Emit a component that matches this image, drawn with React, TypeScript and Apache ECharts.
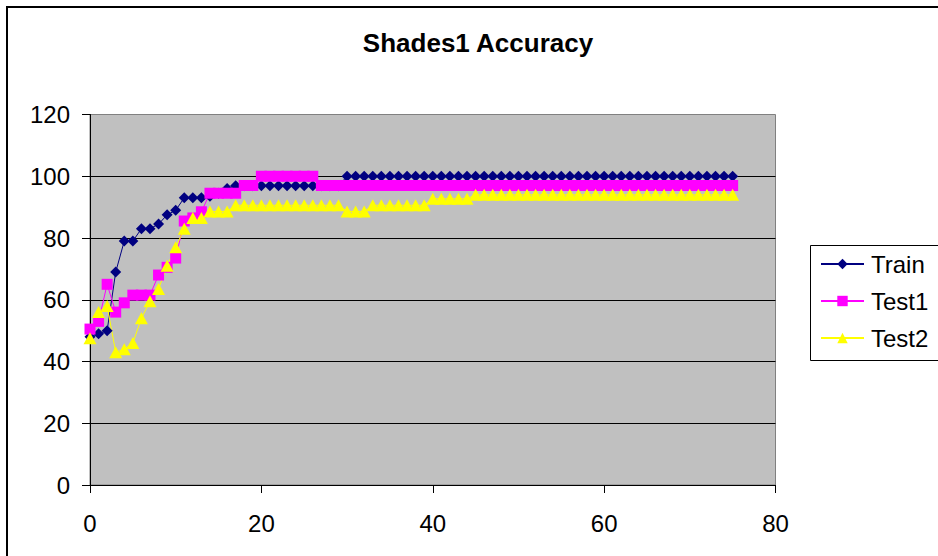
import React, { useEffect, useRef } from "react";
import * as echarts from "echarts";

const title = "Shades1 Accuracy";
const seriesNames = ["Train", "Test1", "Test2"];
const seriesColors = ["#000080", "#FF00FF", "#FFFF00"];
const seriesSymbols = ["diamond", "rect", "triangle"];

const yTicks = { min: 0, max: 120, interval: 20 };
const xTicks = { min: 0, max: 80, interval: 20 };

const epochs = [
  0, 1, 2, 3, 4, 5, 6, 7, 8, 9, 10, 11, 12, 13, 14, 15, 16, 17, 18, 19,
  20, 21, 22, 23, 24, 25, 26, 27, 28, 29, 30, 31, 32, 33, 34, 35, 36, 37, 38, 39,
  40, 41, 42, 43, 44, 45, 46, 47, 48, 49, 50, 51, 52, 53, 54, 55, 56, 57, 58, 59,
  60, 61, 62, 63, 64, 65, 66, 67, 68, 69, 70, 71, 72, 73, 74, 75,
];

const train = [
  48, 49, 50, 69, 79, 79, 83, 83, 84.5, 87.5, 89, 93, 93, 93, 93.5, 94.5, 96, 96.9, 96.9, 96.9,
  96.9, 96.9, 96.9, 96.9, 96.9, 96.9, 96.9, 96.9, 96.9, 96.9, 100, 100, 100, 100, 100, 100, 100, 100, 100, 100,
  100, 100, 100, 100, 100, 100, 100, 100, 100, 100, 100, 100, 100, 100, 100, 100, 100, 100, 100, 100,
  100, 100, 100, 100, 100, 100, 100, 100, 100, 100, 100, 100, 100, 100, 100, 100,
];

const test1 = [
  50.5, 53, 65, 56, 59, 61.5, 61.5, 61.5, 68, 70.5, 73.5, 85.5, 86.5, 88.5, 94.5, 94.5, 94.5, 94.5, 97, 97,
  100, 100, 100, 100, 100, 100, 100, 97, 97, 97, 97, 97, 97, 97, 97, 97, 97, 97, 97, 97,
  97, 97, 97, 97, 97, 97, 97, 97, 97, 97, 97, 97, 97, 97, 97, 97, 97, 97, 97, 97,
  97, 97, 97, 97, 97, 97, 97, 97, 97, 97, 97, 97, 97, 97, 97, 97,
];

const test2 = [
  47.5, 56, 58, 43, 44, 46, 54, 59.5, 63.5, 71, 77, 83, 86.5, 86.5, 88.6, 88.6, 88.6, 90.6, 90.6, 90.6,
  90.6, 90.6, 90.6, 90.6, 90.6, 90.6, 90.6, 90.6, 90.6, 90.6, 88.6, 88.6, 88.6, 90.6, 90.6, 90.6, 90.6, 90.6, 90.6, 90.6,
  92.7, 92.7, 92.7, 92.7, 92.7, 94, 94, 94, 94, 94, 94, 94, 94, 94, 94, 94, 94, 94, 94, 94,
  94, 94, 94, 94, 94, 94, 94, 94, 94, 94, 94, 94, 94, 94, 94, 94,
];

const allSeries = [train, test1, test2];

const FONT = "'Liberation Sans', Arial, sans-serif";

export default function App() {
  const ref = useRef<HTMLDivElement>(null);
  useEffect(() => {
    if (!ref.current) return;
    const chart = echarts.init(ref.current, null, { renderer: "svg" });
    const sizes = [11, 11, [13, 12]];
    chart.setOption({
      animation: false,
      backgroundColor: "#FFFFFF",
      textStyle: { fontFamily: FONT },
      graphic: [
        {
          type: "rect",
          shape: { x: 7, y: 7, width: 1000, height: 600 },
          style: { fill: "none", stroke: "#000000", lineWidth: 2 },
          z: 100,
        },
        {
          type: "rect",
          shape: { x: 810.5, y: 245.5, width: 200, height: 115 },
          style: { fill: "#FFFFFF", stroke: "#000000", lineWidth: 1 },
          z: 0,
        },
        {
          type: "text",
          x: 478,
          y: 43,
          style: {
            text: title,
            font: `bold 26px ${FONT}`,
            fill: "#000000",
            textAlign: "center",
            textVerticalAlign: "middle",
          },
        },
      ],
      grid: {
        left: 90,
        right: 162.5,
        top: 114.5,
        bottom: 71,
        show: true,
        backgroundColor: "#C0C0C0",
        borderColor: "#808080",
        borderWidth: 1,
      },
      legend: {
        orient: "vertical",
        left: 810,
        top: 245,
        padding: [7, 10, 10, 10],
        itemGap: 13,
        itemWidth: 43,
        itemHeight: 13,
        borderWidth: 0,
        z: 10,
        textStyle: { fontSize: 24, color: "#000000", fontFamily: FONT, padding: [0, 0, 0, 2] },
        data: seriesNames,
      },
      xAxis: {
        type: "value",
        min: xTicks.min,
        max: xTicks.max,
        interval: xTicks.interval,
        axisLine: { show: true, lineStyle: { color: "#000000", width: 1 } },
        axisTick: { show: true, inside: false, length: 8, lineStyle: { color: "#000000" } },
        axisLabel: { fontSize: 24, color: "#000000", margin: 26, fontFamily: FONT },
        splitLine: { show: false },
      },
      yAxis: {
        type: "value",
        min: yTicks.min,
        max: yTicks.max,
        interval: yTicks.interval,
        axisLine: { show: true, lineStyle: { color: "#000000", width: 1 } },
        axisTick: { show: true, inside: false, length: 8, lineStyle: { color: "#000000" } },
        axisLabel: { fontSize: 24, color: "#000000", margin: 20, fontFamily: FONT },
        splitLine: {
          show: true,
          showMinLine: false,
          showMaxLine: false,
          lineStyle: { color: "#000000", width: 1 },
        },
      },
      series: allSeries.map((vals, k) => ({
        name: seriesNames[k],
        type: "line",
        data: vals.map((v, i) => [epochs[i], v]),
        symbol: seriesSymbols[k],
        symbolSize: sizes[k],
        showAllSymbol: true,
        lineStyle: { color: seriesColors[k], width: 1 },
        itemStyle: { color: seriesColors[k], borderColor: seriesColors[k], borderWidth: 0 },
        emphasis: { disabled: true },
      })),
    });
    return () => chart.dispose();
  }, []);
  return (
    <div
      ref={ref}
      style={{ position: "absolute", left: 0, top: 0, width: 938, height: 556 }}
    />
  );
}
